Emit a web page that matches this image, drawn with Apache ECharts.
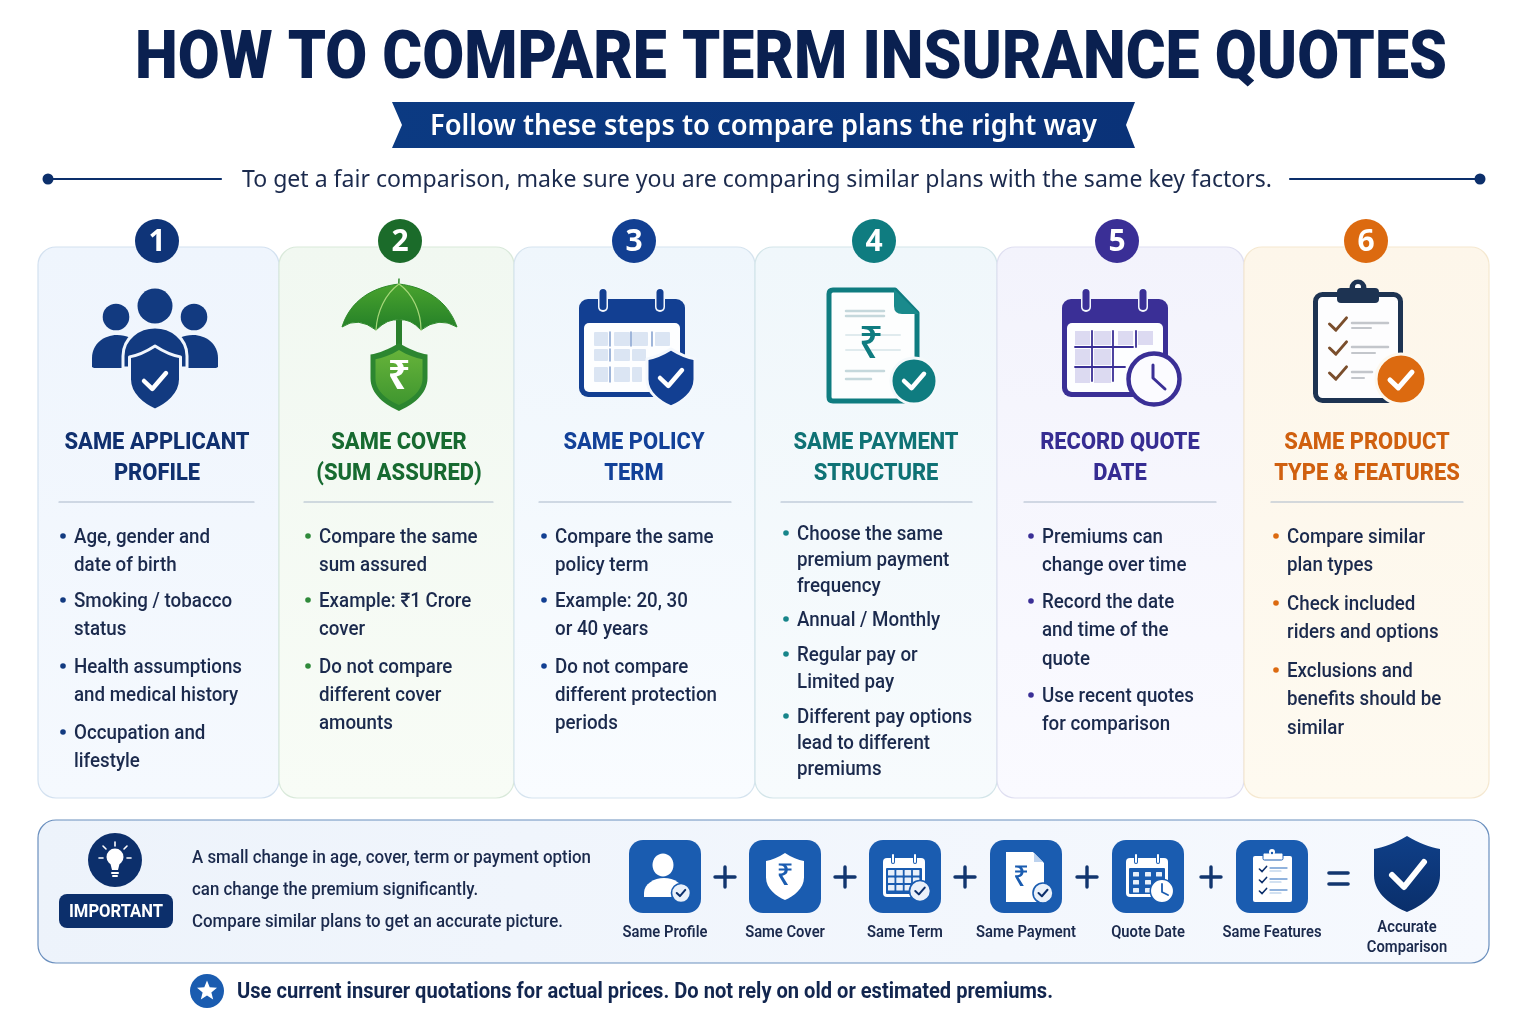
<!DOCTYPE html>
<html>
<head>
<meta charset="utf-8">
<title>How to compare term insurance quotes</title>
<script src="https://cdn.jsdelivr.net/npm/echarts@6/dist/echarts.min.js"></script>
<style>
  html, body { margin: 0; background: #fff; }
  #main { width: 1536px; height: 1024px; }
</style>
</head>
<body>
<div id="main"></div>
<script>
  const pageTitle = 'HOW TO COMPARE TERM INSURANCE QUOTES';
  const ribbonText = 'Follow these steps to compare plans the right way';
  const introText = 'To get a fair comparison, make sure you are comparing similar plans with the same key factors.';

  const stepNumbers = ['1', '2', '3', '4', '5', '6'];
  const stepTitles = [
    ['SAME APPLICANT', 'PROFILE'],
    ['SAME COVER', '(SUM ASSURED)'],
    ['SAME POLICY', 'TERM'],
    ['SAME PAYMENT', 'STRUCTURE'],
    ['RECORD QUOTE', 'DATE'],
    ['SAME PRODUCT', 'TYPE & FEATURES']
  ];
  const stepBullets = [
    [['Age, gender and', 'date of birth'], ['Smoking / tobacco', 'status'], ['Health assumptions', 'and medical history'], ['Occupation and', 'lifestyle']],
    [['Compare the same', 'sum assured'], ['Example: ₹1 Crore', 'cover'], ['Do not compare', 'different cover', 'amounts']],
    [['Compare the same', 'policy term'], ['Example: 20, 30', 'or 40 years'], ['Do not compare', 'different protection', 'periods']],
    [['Choose the same', 'premium payment', 'frequency'], ['Annual / Monthly'], ['Regular pay or', 'Limited pay'], ['Different pay options', 'lead to different', 'premiums']],
    [['Premiums can', 'change over time'], ['Record the date', 'and time of the', 'quote'], ['Use recent quotes', 'for comparison']],
    [['Compare similar', 'plan types'], ['Check included', 'riders and options'], ['Exclusions and', 'benefits should be', 'similar']]
  ];
  const importantLabel = 'IMPORTANT';
  const importantLines = [
    'A small change in age, cover, term or payment option',
    'can change the premium significantly.',
    'Compare similar plans to get an accurate picture.'
  ];
  const flowLabels = ['Same Profile', 'Same Cover', 'Same Term', 'Same Payment', 'Quote Date', 'Same Features'];
  const resultLabel = ['Accurate', 'Comparison'];
  const footNote = 'Use current insurer quotations for actual prices. Do not rely on old or estimated premiums.';

  // layout
  const cardEdges = [38, 279, 514, 755, 997, 1244, 1489];
  const badgeX = [157, 400, 634, 874, 1117, 1366];
  const titleX = [157, 399, 634, 876, 1120, 1367];
  const ruleX = [[59, 254], [304, 493], [539, 731], [781, 972], [1024, 1216], [1271, 1463]];
  const bulletX = [74, 319, 555, 797, 1042, 1287];
  const bulletY = [
    [536, 564, 600, 628, 666, 694, 732, 760],
    [536, 564, 600, 628, 666, 694, 722],
    [536, 564, 600, 628, 666, 694, 722],
    [533, 559, 585, 619, 654, 681, 716, 742, 768],
    [536, 564, 601, 629, 658, 695, 723],
    [536, 564, 603, 631, 670, 698, 727]
  ];
  const tileX = [665, 785, 905, 1026, 1148, 1272];
  const plusX = [725, 845, 965, 1087, 1211];
  const themes = [
    { main: '#0f3478', title: '#10306f', top: '#eff5fd', bottom: '#f5f9fe', line: '#d3e1f0', dot: '#123a80' },
    { main: '#1b6b2a', title: '#176a30', top: '#f1f8f1', bottom: '#f8fcf6', line: '#d9e9da', dot: '#2f8a3a' },
    { main: '#123f92', title: '#124199', top: '#eff6fc', bottom: '#f9fcff', line: '#d6e4ef', dot: '#123f92' },
    { main: '#0f7c80', title: '#0f7275', top: '#f0f7fb', bottom: '#f7fbfd', line: '#d3e5e9', dot: '#17858a' },
    { main: '#3a2f96', title: '#362c92', top: '#f3f3fc', bottom: '#fafaff', line: '#dfdff1', dot: '#3a2f96' },
    { main: '#dc6a10', title: '#d0600f', top: '#fdf6ea', bottom: '#fefaf0', line: '#f5e8d0', dot: '#dc6a10' }
  ];
  const navy = '#0c2f6b';
  const ink = '#1b2a4d';
  const tileBlue = '#1a5cb0';

  // lets the graphic component draw plain "M x y L x y C ..." strings in page coordinates
  echarts.graphic.registerShape('pen', echarts.graphic.extendShape({
    type: 'pen',
    shape: { d: '' },
    buildPath(ctx, shape) {
      const t = shape.d.trim().split(/[\s,]+/);
      let i = 0;
      const n = () => parseFloat(t[i++]);
      while (i < t.length) {
        const c = t[i++];
        if (c === 'M') ctx.moveTo(n(), n());
        else if (c === 'L') ctx.lineTo(n(), n());
        else if (c === 'Q') ctx.quadraticCurveTo(n(), n(), n(), n());
        else if (c === 'C') ctx.bezierCurveTo(n(), n(), n(), n(), n(), n());
        else if (c === 'Z') ctx.closePath();
      }
    }
  }));

  const els = [];
  const measureCtx = document.createElement('canvas').getContext('2d');
  function fit(font, str, width) {
    measureCtx.font = font;
    return width / measureCtx.measureText(str).width;
  }
  // middle alignment sits about 2px above the visual centre of these fonts
  function text(str, x, y, font, fill, align, scale) {
    els.push({
      type: 'text', x, y: y + 2, scaleX: scale || 1, silent: true,
      style: { text: str, font, fill, textAlign: align || 'left', textVerticalAlign: 'middle' }
    });
  }
  function rect(x, y, w, h, r, fill, stroke, lw) {
    els.push({ type: 'rect', silent: true, shape: { x, y, width: w, height: h, r }, style: { fill, stroke: stroke || 'none', lineWidth: lw || 0 } });
  }
  function circle(cx, cy, r, fill, stroke, lw) {
    els.push({ type: 'circle', silent: true, shape: { cx, cy, r }, style: { fill, stroke: stroke || 'none', lineWidth: lw || 0 } });
  }
  function pen(d, fill, stroke, lw) {
    els.push({ type: 'pen', silent: true, shape: { d }, style: { fill: fill || 'none', stroke: stroke || 'none', lineWidth: lw || 0, lineJoin: 'round', lineCap: 'round' } });
  }
  function line(pts, stroke, lw) {
    els.push({ type: 'polyline', silent: true, shape: { points: pts }, style: { fill: 'none', stroke, lineWidth: lw, lineCap: 'round', lineJoin: 'round' } });
  }
  function check(cx, cy, s, stroke, lw) {
    line([[cx - s, cy], [cx - s * 0.25, cy + s * 0.72], [cx + s, cy - s * 0.72]], stroke, lw);
  }
  function shieldPath(cx, top, w, h) {
    const a = w / 2;
    return 'M ' + cx + ' ' + top +
      ' C ' + (cx + a * 0.35) + ' ' + (top + h * 0.09) + ' ' + (cx + a * 0.7) + ' ' + (top + h * 0.15) + ' ' + (cx + a) + ' ' + (top + h * 0.17) +
      ' L ' + (cx + a) + ' ' + (top + h * 0.52) +
      ' C ' + (cx + a) + ' ' + (top + h * 0.76) + ' ' + (cx + a * 0.45) + ' ' + (top + h * 0.92) + ' ' + cx + ' ' + (top + h) +
      ' C ' + (cx - a * 0.45) + ' ' + (top + h * 0.92) + ' ' + (cx - a) + ' ' + (top + h * 0.76) + ' ' + (cx - a) + ' ' + (top + h * 0.52) +
      ' L ' + (cx - a) + ' ' + (top + h * 0.17) +
      ' C ' + (cx - a * 0.7) + ' ' + (top + h * 0.15) + ' ' + (cx - a * 0.35) + ' ' + (top + h * 0.09) + ' ' + cx + ' ' + top + ' Z';
  }
  function vgrad(a, b) {
    return new echarts.graphic.LinearGradient(0, 0, 0, 1, [{ offset: 0, color: a }, { offset: 1, color: b }]);
  }
  function calendarFrame(x0, c) {
    rect(x0, 299, 106, 98, 9, c);
    rect(x0 + 5, 323, 96, 69, 5, '#fdfeff');
    [x0 + 24, x0 + 81].forEach(rx => {
      rect(rx - 5, 287, 10, 25, 5, '#f3f7fd');
      rect(rx - 3.5, 289, 7, 21, 3.5, c);
    });
  }

  function iconPeople() {
    const c = '#123a80';
    circle(116, 317, 13.3, c);
    circle(194, 317, 13.3, c);
    circle(155, 306, 17.5, c);
    pen('M 92 367 L 92 358 C 92 344 104 335 117 335 C 127 335 134 339 138 345 L 138 368 L 94 368 Z', c);
    pen('M 218 367 L 218 358 C 218 344 206 335 193 335 C 183 335 176 339 172 345 L 172 368 L 216 368 Z', c);
    pen('M 123 368 L 123 356 C 123 338 139 327 155 327 C 171 327 187 338 187 356 L 187 368 Z', c, '#f1f6fd', 3);
    pen(shieldPath(155, 346, 51, 64), c, '#f1f6fd', 3);
    check(155, 381, 11, '#fff', 4.5);
  }
  function iconUmbrella() {
    const canopy = vgrad('#4ea72e', '#237f28');
    rect(396, 320, 6, 26, 0, '#2a7f2c');
    pen('M 399 279 L 399 284 C 372 287 350 301 342 327 Q 358 316 376 330 Q 388 318 399 320 Q 410 318 421 330 Q 439 316 457 327 C 448 301 426 287 399 284 Z', canopy, '#2f8a2c', 1);
    pen('M 399 284 C 385 294 377 312 376 330', null, '#a7d77a', 1.2);
    pen('M 399 284 C 413 294 421 312 421 330', null, '#a7d77a', 1.2);
    pen(shieldPath(399, 343, 57, 68), '#2c8630');
    pen(shieldPath(399, 350, 47, 55), vgrad('#66b33a', '#3f962f'));
    text('₹', 399, 376, '700 40px "Noto Sans"', '#fff', 'center');
  }
  function iconPolicyCalendar() {
    const c = '#123f92';
    calendarFrame(579, c);
    const cell = '#dbe5f3';
    [[594, 332, 14, 14], [614, 332, 16, 14], [632, 332, 16, 14], [655, 332, 15, 14],
      [594, 349, 14, 12], [614, 349, 16, 12], [632, 349, 14, 12],
      [594, 367, 14, 15], [614, 367, 16, 15], [632, 367, 10, 15]].forEach(b => rect(b[0], b[1], b[2], b[3], 1, cell));
    [[610, 332, 346], [631, 332, 346], [652, 332, 346], [610, 349, 361], [610, 367, 382]].forEach(l => {
      line([[l[0], l[1]], [l[0], l[2]]], '#6d8ec6', 1.3);
    });
    pen(shieldPath(671, 349, 48, 58), c, '#f4f8fd', 3);
    check(671, 378, 11, '#fff', 4.5);
  }
  function iconDocument() {
    const c = '#0f7c80';
    pen('M 833 290 L 895 290 L 917 313 L 917 397 Q 917 401 913 401 L 833 401 Q 829 401 829 397 L 829 294 Q 829 290 833 290 Z', '#fdfefe', c, 5);
    pen('M 894 289 L 919 314 L 902 314 Q 894 314 894 306 Z', '#1a8a8c');
    line([[846, 311], [884, 311]], '#c5d8dc', 2.5);
    line([[846, 316], [884, 316]], '#c5d8dc', 2.5);
    line([[846, 335], [900, 335]], '#e0ebee', 2);
    line([[846, 350], [900, 350]], '#e0ebee', 2);
    line([[846, 371], [884, 371]], '#c5d8dc', 2.5);
    line([[846, 379], [871, 379]], '#c5d8dc', 2.5);
    text('₹', 871, 343, '500 44px "Noto Sans"', c, 'center');
    circle(914, 381, 23, c, '#f4f9fb', 3);
    check(914, 381, 10, '#fff', 4.5);
  }
  function iconQuoteCalendar() {
    const c = '#3a2f96';
    calendarFrame(1062, c);
    const cell = '#dcdaf1';
    [[1075, 331, 15, 14], [1094, 331, 17, 14], [1118, 331, 15, 14], [1138, 331, 15, 14],
      [1075, 349, 15, 16], [1094, 349, 17, 16], [1075, 368, 15, 15], [1094, 368, 17, 15]].forEach(b => rect(b[0], b[1], b[2], b[3], 0, cell));
    line([[1075, 347], [1133, 347]], c, 1.8);
    line([[1075, 367], [1125, 367]], c, 1.8);
    line([[1092, 331], [1092, 381]], c, 1.8);
    line([[1113, 331], [1113, 381]], c, 1.8);
    line([[1136, 331], [1136, 347]], c, 1.8);
    circle(1154, 379, 25.5, '#fbfbff', c, 4.5);
    line([[1153, 365], [1153, 378], [1165, 389]], c, 3);
  }
  function iconClipboard() {
    const c = '#1d3352';
    rect(1315.5, 294.5, 85, 106, 7, '#fdfdfe', c, 5);
    circle(1358, 288, 8.5, c);
    circle(1358, 287, 3, '#fff');
    rect(1337, 288, 42, 15, 4, c);
    [324, 348, 373].forEach(y => check(1338, y, 8.5, '#7a4e2c', 3));
    const g = '#c3c6cb';
    line([[1352, 323], [1388, 323]], g, 2.5);
    line([[1352, 328], [1371, 328]], g, 2);
    line([[1352, 347], [1388, 347]], g, 2.5);
    line([[1352, 353], [1375, 353]], g, 2);
    line([[1352, 372], [1372, 372]], g, 2.5);
    line([[1352, 378], [1364, 378]], g, 2);
    circle(1401, 379, 25, '#dc6a10', '#fdf8ee', 3);
    check(1401, 380, 11, '#fff', 5);
  }
  const stepIcons = [iconPeople, iconUmbrella, iconPolicyCalendar, iconDocument, iconQuoteCalendar, iconClipboard];

  function miniBadge(cx, cy, r) {
    circle(cx, cy, r, '#eaf1fa', tileBlue, 1.6);
    check(cx, cy, r * 0.45, navy, 2);
  }
  function miniCalendar(x0, cols, cw, rows, ch) {
    rect(x0, 858, 42, 39, 4, '#fff');
    rect(x0 + 3, 868, 36, 26, 1, tileBlue);
    [x0 + 10, x0 + 32].forEach(rx => {
      rect(rx - 2, 853, 4, 11, 2, tileBlue);
      rect(rx - 1, 854, 2, 9, 1, '#fff');
    });
    rows.forEach(y => cols.forEach(x => rect(x0 + x, y, cw, ch, 0.5, '#e8f0fa')));
  }
  const flowIcons = [
    () => {
      els.push({ type: 'ellipse', silent: true, shape: { cx: 663, cy: 865, rx: 10.5, ry: 11.5 }, style: { fill: '#fff' } });
      pen('M 644 897 L 644 893 C 644 884 654 878 664 878 C 674 878 684 884 684 893 L 684 897 Z', '#fff');
      miniBadge(681, 893, 9.5);
    },
    () => {
      pen(shieldPath(785, 853, 38, 47), '#fff');
      text('₹', 785, 874, '500 30px "Noto Sans"', tileBlue, 'center');
    },
    () => {
      miniCalendar(883, [5, 13.3, 21.6, 29.9], 6.5, [870, 877.5, 885], 5.5);
      miniBadge(920, 891, 10.5);
    },
    () => {
      pen('M 1006 852 L 1033 852 L 1044 863 L 1044 902 L 1006 902 Z', '#fff');
      pen('M 1034 853 L 1043 862 L 1034 862 Z', '#bcd2ee');
      text('₹', 1021, 876, '500 28px "Noto Sans"', tileBlue, 'center');
      miniBadge(1043, 893, 10);
    },
    () => {
      miniCalendar(1126, [7, 19, 30], 6, [872, 880, 888], 4.5);
      circle(1162, 891, 11.7, '#fff', tileBlue, 1.5);
      line([[1162, 884], [1162, 892], [1168, 895]], tileBlue, 1.8);
    },
    () => {
      rect(1253, 856, 39, 46, 2, '#fff');
      rect(1263, 853, 20, 7, 1.5, '#fff', tileBlue, 1);
      circle(1272, 852, 3, '#fff');
      circle(1272, 853, 1.2, tileBlue);
      [869, 880, 891].forEach(y => {
        check(1263, y, 3.6, navy, 1.6);
        line([[1270, y - 1], [1287, y - 1]], '#6d9ad2', 1.3);
        line([[1270, y + 2], [1281, y + 2]], '#a6c3e4', 1.2);
      });
    }
  ];

  // header
  const titleFont = '900 67px Roboto';
  text(pageTitle, 135, 59, titleFont, '#0a2050', 'left', fit(titleFont, pageTitle, 1312));
  els.push({
    type: 'polygon', silent: true,
    shape: { points: [[392, 102], [1135, 102], [1126, 125], [1135, 148], [392, 148], [402, 125]] },
    style: { fill: new echarts.graphic.LinearGradient(0, 0, 1, 0, [{ offset: 0, color: '#0b3a82' }, { offset: 1, color: '#0a3278' }]) }
  });
  const ribbonFont = '600 28px "Noto Sans"';
  text(ribbonText, 430, 125, ribbonFont, '#fff', 'left', fit(ribbonFont, ribbonText, 667));
  const introFont = '400 24px "Noto Sans"';
  text(introText, 242, 178, introFont, ink, 'left', fit(introFont, introText, 1030));
  line([[48, 179], [221, 179]], navy, 2.2);
  line([[1290, 179], [1480, 179]], navy, 2.2);
  circle(48, 179, 5.5, navy);
  circle(1480, 179, 5.5, navy);

  // cards, then whatever sits on them
  const stepTitleFont = '800 24px Roboto';
  const stepTitleScale = fit(stepTitleFont, 'SAME APPLICANT', 185);
  const bodyFont = '500 20px Roboto';
  const bodyScale = fit(bodyFont, 'Health assumptions', 168);

  themes.forEach((th, i) => {
    rect(cardEdges[i], 247, cardEdges[i + 1] - cardEdges[i], 551, 18, vgrad(th.top, th.bottom), th.line, 1.2);
  });
  themes.forEach((th, i) => {
    circle(badgeX[i], 241, 22, th.main);
    text(stepNumbers[i], badgeX[i], 240, '700 30px "Noto Sans"', '#fff', 'center');
    stepIcons[i]();
    stepTitles[i].forEach((str, k) => text(str, titleX[i], 441 + k * 31, stepTitleFont, th.title, 'center', stepTitleScale));
    line([[ruleX[i][0], 502], [ruleX[i][1], 502]], '#a9b8ca', 1.2);
    let row = 0;
    stepBullets[i].forEach(group => {
      circle(bulletX[i] - 11, bulletY[i][row], 2.8, th.dot);
      group.forEach(str => {
        text(str, bulletX[i], bulletY[i][row], bodyFont, ink, 'left', bodyScale);
        row++;
      });
    });
  });

  // bottom panel
  rect(38, 820, 1451, 143, 18, new echarts.graphic.LinearGradient(0, 0, 1, 1, [{ offset: 0, color: '#edf3fb' }, { offset: 1, color: '#f6f9fe' }]), '#6a8fbe', 1.2);
  circle(115, 860, 27, navy);
  circle(115, 857, 8.5, '#fff');
  pen('M 110 862 L 120 862 L 118 870 L 112 870 Z', '#fff');
  rect(111, 872, 8, 2, 1, '#fff');
  rect(112, 875, 6, 2, 1, '#fff');
  [[[115, 842], [115, 846]], [[103, 846], [106, 849]], [[127, 846], [124, 849]], [[99, 858], [103, 858]], [[127, 858], [131, 858]]].forEach(l => line(l, '#fff', 1.6));
  rect(59, 894, 114, 34, 8, navy);
  const importantFont = '700 18px Roboto';
  text(importantLabel, 116, 910, importantFont, '#fff', 'center', fit(importantFont, importantLabel, 94));
  const importantTextFont = '500 19px Roboto';
  const importantScale = fit(importantTextFont, importantLines[0], 399);
  importantLines.forEach((str, i) => text(str, 192, 856 + i * 32, importantTextFont, ink, 'left', importantScale));

  const flowFont = '600 16px Roboto';
  const flowScale = fit(flowFont, 'Same Features', 99);
  tileX.forEach((x, i) => {
    rect(x - 36, 840, 72, 73, 14, tileBlue);
    flowIcons[i]();
    text(flowLabels[i], x, 931, flowFont, ink, 'center', flowScale);
  });
  plusX.forEach(x => {
    line([[x - 10, 877], [x + 10, 877]], '#12366f', 3.4);
    line([[x, 867], [x, 887]], '#12366f', 3.4);
  });
  line([[1329, 873], [1348, 873]], '#12366f', 3.6);
  line([[1329, 884], [1348, 884]], '#12366f', 3.6);
  pen(shieldPath(1407, 836, 66, 76), vgrad('#0f3f88', '#0a2f6b'));
  line([[1392, 875], [1404, 887], [1424, 862]], '#fff', 6);
  resultLabel.forEach((str, i) => text(str, 1407, 926 + i * 20, flowFont, ink, 'center', flowScale));

  // foot note
  circle(207, 991, 17, tileBlue);
  const star = [];
  for (let i = 0; i < 10; i++) {
    const a = -Math.PI / 2 + i * Math.PI / 5;
    const r = i % 2 ? 4.6 : 10.5;
    star.push([207 + r * Math.cos(a), 991 + r * Math.sin(a)]);
  }
  els.push({ type: 'polygon', silent: true, shape: { points: star }, style: { fill: '#fff' } });
  const footFont = '700 22px Roboto';
  text(footNote, 237, 990, footFont, '#12264f', 'left', fit(footFont, footNote, 816));

  const chart = echarts.init(document.getElementById('main'));
  chart.setOption({
    backgroundColor: '#ffffff',
    animation: false,
    graphic: { elements: els }
  });
</script>
</body>
</html>
